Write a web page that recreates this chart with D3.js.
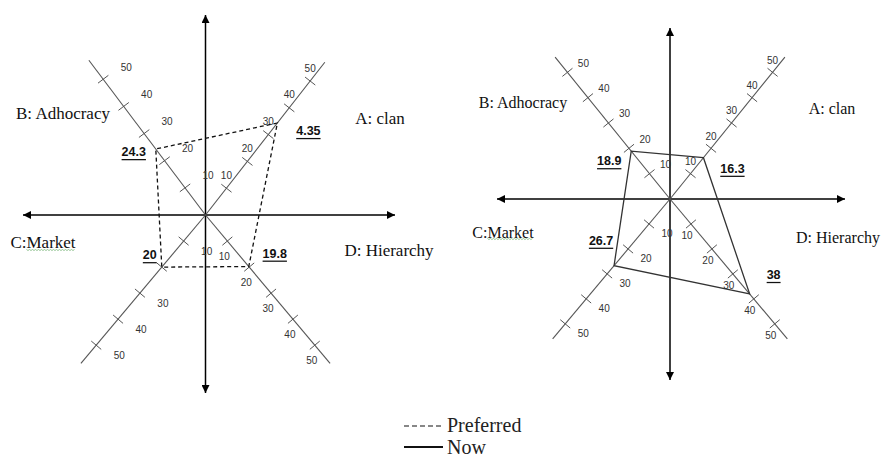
<!DOCTYPE html>
<html>
<head>
<meta charset="utf-8">
<script src="https://cdn.jsdelivr.net/npm/d3@7"></script>
<style>
  body { margin: 0; background: #fff; }
  svg { display: block; }
</style>
</head>
<body>
<script>
// culture quadrant charts: preferred (left) vs now (right)

const axisKeys = ["A", "B", "C", "D"];
const axisNames = ["A: clan", "B: Adhocracy", "C:Market", "D: Hierarchy"];
const tickValues = [10, 20, 30, 40, 50];

const preferredValues = [34.35, 24.3, 20, 19.8];
const preferredLabels = ["4.35", "24.3", "20", "19.8"];

const nowValues = [16.3, 18.9, 26.7, 38];
const nowLabels = ["16.3", "18.9", "26.7", "38"];

const legendLabels = ["Preferred", "Now"];

const W = 882, H = 461;

const svg = d3.select("body").append("svg")
    .attr("width", W)
    .attr("height", H);

const defs = svg.append("defs");
defs.append("marker")
    .attr("id", "arrowhead")
    .attr("viewBox", "0 0 10 10")
    .attr("refX", 10)
    .attr("refY", 5)
    .attr("markerWidth", 10)
    .attr("markerHeight", 8)
    .attr("markerUnits", "userSpaceOnUse")
    .attr("orient", "auto-start-reverse")
    .append("path")
    .attr("d", "M 0 0 L 10 5 L 0 10 Z")
    .attr("fill", "#000");

const leftCfg = {
    cx: 205.5, cy: 215, r50: 170, axisMax: 57,
    angles: [52, 127, 230, 310],
    hx: [23, 395], vy: [15, 393],
    tickOffsets: [[0, -13], [23, -12], [23, 10], [-3, 15]],
    valueOffsets: [[31, 8], [-22, 3], [-12, -12], [26, -13]],
    namePos: [[380, 118], [63, 113], [43, 242], [389, 250]],
    nameSize: 17,
    hideTicks: [["C", 20]],
    dash: "4,3"
};

const rightCfg = {
    cx: 670, cy: 199, r50: 163, axisMax: 56,
    angles: [51, 129, 230, 310],
    hx: [497, 845], vy: [28, 380],
    tickOffsets: [[0, -12], [16, -9], [18, 10], [-4, 12]],
    valueOffsets: [[29, 11], [-22, 10], [-13, -25], [24, -19]],
    namePos: [[832, 108], [523, 102], [503, 232], [838, 237]],
    nameSize: 16,
    hideTicks: [],
    dash: null
};

function drawChart(cfg, values, labels) {
    const g = svg.append("g");
    const r = d3.scaleLinear().domain([0, 50]).range([0, cfg.r50]);
    const rad = d => d * Math.PI / 180;
    const pos = (i, v) => {
        const a = rad(cfg.angles[i]);
        return [cfg.cx + r(v) * Math.cos(a), cfg.cy - r(v) * Math.sin(a)];
    };

    // main cross with arrows
    g.append("line")
        .attr("x1", cfg.hx[0]).attr("y1", cfg.cy)
        .attr("x2", cfg.hx[1]).attr("y2", cfg.cy)
        .attr("stroke", "#000").attr("stroke-width", 1.5)
        .attr("marker-start", "url(#arrowhead)")
        .attr("marker-end", "url(#arrowhead)");
    g.append("line")
        .attr("x1", cfg.cx).attr("y1", cfg.vy[0])
        .attr("x2", cfg.cx).attr("y2", cfg.vy[1])
        .attr("stroke", "#000").attr("stroke-width", 1.5)
        .attr("marker-start", "url(#arrowhead)")
        .attr("marker-end", "url(#arrowhead)");

    // diagonal axes
    axisKeys.forEach((k, i) => {
        const end = pos(i, cfg.axisMax);
        g.append("line")
            .attr("x1", cfg.cx).attr("y1", cfg.cy)
            .attr("x2", end[0]).attr("y2", end[1])
            .attr("stroke", "#555").attr("stroke-width", 1.1);

        const a = rad(cfg.angles[i]);
        const px = Math.sin(a) * 6.5, py = Math.cos(a) * 6.5;
        g.selectAll(null)
            .data(tickValues)
            .enter()
            .append("line")
            .attr("x1", d => pos(i, d)[0] - px)
            .attr("y1", d => pos(i, d)[1] - py)
            .attr("x2", d => pos(i, d)[0] + px)
            .attr("y2", d => pos(i, d)[1] + py)
            .attr("stroke", "#555").attr("stroke-width", 1);

        const off = cfg.tickOffsets[i];
        g.selectAll(null)
            .data(tickValues.filter(t => !cfg.hideTicks.some(h => h[0] === k && h[1] === t)))
            .enter()
            .append("text")
            .attr("x", d => pos(i, d)[0] + off[0])
            .attr("y", d => pos(i, d)[1] + off[1])
            .attr("text-anchor", "middle")
            .attr("dominant-baseline", "central")
            .attr("font-family", "Liberation Sans, Arial, sans-serif")
            .attr("font-size", 10)
            .attr("fill", "#333")
            .text(d => d);
    });

    // value polygon
    const pts = values.map((v, i) => pos(i, v));
    g.append("path")
        .attr("d", d3.line().curve(d3.curveLinearClosed)(pts))
        .attr("fill", "none")
        .attr("stroke", cfg.dash ? "#111" : "#333")
        .attr("stroke-width", 1.3)
        .attr("stroke-dasharray", cfg.dash);

    // value labels
    g.selectAll(null)
        .data(labels)
        .enter()
        .append("text")
        .attr("x", (d, i) => pts[i][0] + cfg.valueOffsets[i][0])
        .attr("y", (d, i) => pts[i][1] + cfg.valueOffsets[i][1])
        .attr("text-anchor", "middle")
        .attr("dominant-baseline", "central")
        .attr("font-family", "Liberation Sans, Arial, sans-serif")
        .attr("font-weight", "bold")
        .attr("font-size", 12.5)
        .attr("text-decoration", "underline")
        .attr("fill", "#111")
        .text(d => d);

    // quadrant names
    axisNames.forEach((name, i) => {
        const t = g.append("text")
            .attr("x", cfg.namePos[i][0])
            .attr("y", cfg.namePos[i][1])
            .attr("text-anchor", "middle")
            .attr("dominant-baseline", "central")
            .attr("font-family", "Liberation Serif, Times New Roman, serif")
            .attr("font-size", cfg.nameSize)
            .attr("fill", "#111")
            .text(name);

        // spell-check squiggle under "Market"
        if (name.indexOf("Market") >= 0) {
            const node = t.node();
            const s = name.indexOf("Market");
            const x0 = node.getExtentOfChar(s).x;
            const last = node.getExtentOfChar(name.length - 1);
            const x1 = last.x + last.width;
            const yb = last.y + last.height - 2;
            const zz = [];
            for (let x = x0, k = 0; x <= x1; x += 1.5, k++) zz.push([x, yb + (k % 2 ? 1 : 0)]);
            g.append("path")
                .attr("d", d3.line()(zz))
                .attr("fill", "none")
                .attr("stroke", "#7cb87c")
                .attr("stroke-width", 0.8);
        }
    });
}

drawChart(leftCfg, preferredValues, preferredLabels);
drawChart(rightCfg, nowValues, nowLabels);

// legend
const legend = svg.append("g");
const legendY = [426, 447];
legend.selectAll("line")
    .data(legendLabels)
    .enter()
    .append("line")
    .attr("x1", 404).attr("x2", 443)
    .attr("y1", (d, i) => legendY[i])
    .attr("y2", (d, i) => legendY[i])
    .attr("stroke", "#111")
    .attr("stroke-width", (d, i) => i === 0 ? 1.2 : 2)
    .attr("stroke-dasharray", (d, i) => i === 0 ? "5,3" : null);
legend.selectAll("text")
    .data(legendLabels)
    .enter()
    .append("text")
    .attr("x", 447)
    .attr("y", (d, i) => i === 0 ? 425 : 447)
    .attr("dominant-baseline", "central")
    .attr("font-family", "Liberation Serif, Times New Roman, serif")
    .attr("font-size", 20)
    .attr("fill", "#222")
    .text(d => d);
</script>
</body>
</html>
